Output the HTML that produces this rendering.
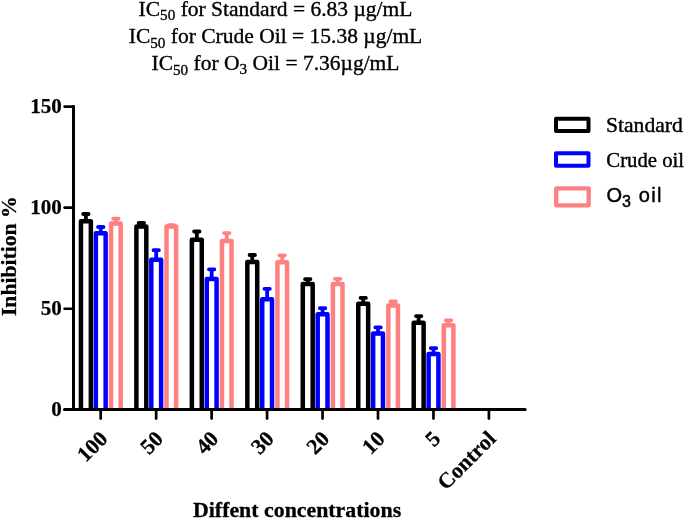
<!DOCTYPE html>
<html><head><meta charset="utf-8"><style>
html,body{margin:0;padding:0;background:#fff;width:685px;height:518px;overflow:hidden;}
svg{display:block;will-change:transform;}
</style></head><body>
<svg width="685" height="518" viewBox="0 0 685 518">
<style>
text{font-family:"Liberation Serif",serif;}
.t{font-size:21.5px;text-anchor:middle;stroke:#000;stroke-width:0.35px;}
.yl{font-size:21px;font-weight:bold;text-anchor:end;stroke:#000;stroke-width:0.25px;}
.xl{font-size:21.8px;font-weight:bold;text-anchor:end;stroke:#000;stroke-width:0.25px;}
.lg{font-size:21px;stroke:#000;stroke-width:0.4px;}
</style>
<rect width="685" height="518" fill="#fff"/>
<text class="t" x="275.5" y="15.7">IC<tspan font-size="15.2" dy="4.7">50</tspan><tspan dy="-4.7"> for Standard = 6.83 µg/mL</tspan></text>
<text class="t" x="275.5" y="42.9">IC<tspan font-size="15.2" dy="4.7">50</tspan><tspan dy="-4.7"> for Crude Oil = 15.38 µg/mL</tspan></text>
<text class="t" x="275.5" y="69.8">IC<tspan font-size="15.2" dy="4.7">50</tspan><tspan dy="-4.7"> for O</tspan><tspan font-size="15.2" dy="4.3">3</tspan><tspan dy="-4.3"> Oil = 7.36µg/mL</tspan></text>
<path d="M80.95 409.40V221.25H90.85V409.40" fill="#fff" stroke="#000" stroke-width="4.5" stroke-linejoin="round"/><path d="M85.90 221.25V214.00M83.20 214.00H88.60" stroke="#000" stroke-width="3.8" stroke-linecap="round" fill="none"/><path d="M95.85 409.40V233.25H105.65V409.40" fill="#fff" stroke="#00f" stroke-width="4.5" stroke-linejoin="round"/><path d="M100.75 233.25V227.00M98.05 227.00H103.45" stroke="#00f" stroke-width="3.8" stroke-linecap="round" fill="none"/><path d="M111.05 409.40V223.50H120.65V409.40" fill="#fff" stroke="#ff8080" stroke-width="4.5" stroke-linejoin="round"/><path d="M115.85 223.50V218.70M113.15 218.70H118.55" stroke="#ff8080" stroke-width="3.8" stroke-linecap="round" fill="none"/><path d="M136.41 409.40V226.40H146.31V409.40" fill="#fff" stroke="#000" stroke-width="4.5" stroke-linejoin="round"/><path d="M141.36 226.40V223.00M138.66 223.00H144.06" stroke="#000" stroke-width="3.8" stroke-linecap="round" fill="none"/><path d="M151.31 409.40V259.70H161.11V409.40" fill="#fff" stroke="#00f" stroke-width="4.5" stroke-linejoin="round"/><path d="M156.21 259.70V250.20M153.51 250.20H158.91" stroke="#00f" stroke-width="3.8" stroke-linecap="round" fill="none"/><path d="M166.51 409.40V226.60H176.11V409.40" fill="#fff" stroke="#ff8080" stroke-width="4.5" stroke-linejoin="round"/><path d="M171.31 226.60V225.20M168.61 225.20H174.01" stroke="#ff8080" stroke-width="3.8" stroke-linecap="round" fill="none"/><path d="M191.87 409.40V239.80H201.77V409.40" fill="#fff" stroke="#000" stroke-width="4.5" stroke-linejoin="round"/><path d="M196.82 239.80V231.50M194.12 231.50H199.52" stroke="#000" stroke-width="3.8" stroke-linecap="round" fill="none"/><path d="M206.77 409.40V279.00H216.57V409.40" fill="#fff" stroke="#00f" stroke-width="4.5" stroke-linejoin="round"/><path d="M211.67 279.00V269.30M208.97 269.30H214.37" stroke="#00f" stroke-width="3.8" stroke-linecap="round" fill="none"/><path d="M221.97 409.40V241.00H231.57V409.40" fill="#fff" stroke="#ff8080" stroke-width="4.5" stroke-linejoin="round"/><path d="M226.77 241.00V233.10M224.07 233.10H229.47" stroke="#ff8080" stroke-width="3.8" stroke-linecap="round" fill="none"/><path d="M247.33 409.40V262.00H257.23V409.40" fill="#fff" stroke="#000" stroke-width="4.5" stroke-linejoin="round"/><path d="M252.28 262.00V255.00M249.58 255.00H254.98" stroke="#000" stroke-width="3.8" stroke-linecap="round" fill="none"/><path d="M262.23 409.40V299.20H272.03V409.40" fill="#fff" stroke="#00f" stroke-width="4.5" stroke-linejoin="round"/><path d="M267.13 299.20V288.80M264.43 288.80H269.83" stroke="#00f" stroke-width="3.8" stroke-linecap="round" fill="none"/><path d="M277.43 409.40V262.20H287.03V409.40" fill="#fff" stroke="#ff8080" stroke-width="4.5" stroke-linejoin="round"/><path d="M282.23 262.20V255.30M279.53 255.30H284.93" stroke="#ff8080" stroke-width="3.8" stroke-linecap="round" fill="none"/><path d="M302.79 409.40V284.10H312.69V409.40" fill="#fff" stroke="#000" stroke-width="4.5" stroke-linejoin="round"/><path d="M307.74 284.10V279.10M305.04 279.10H310.44" stroke="#000" stroke-width="3.8" stroke-linecap="round" fill="none"/><path d="M317.69 409.40V314.20H327.49V409.40" fill="#fff" stroke="#00f" stroke-width="4.5" stroke-linejoin="round"/><path d="M322.59 314.20V308.20M319.89 308.20H325.29" stroke="#00f" stroke-width="3.8" stroke-linecap="round" fill="none"/><path d="M332.89 409.40V284.10H342.49V409.40" fill="#fff" stroke="#ff8080" stroke-width="4.5" stroke-linejoin="round"/><path d="M337.69 284.10V278.80M334.99 278.80H340.39" stroke="#ff8080" stroke-width="3.8" stroke-linecap="round" fill="none"/><path d="M358.25 409.40V303.80H368.15V409.40" fill="#fff" stroke="#000" stroke-width="4.5" stroke-linejoin="round"/><path d="M363.20 303.80V297.90M360.50 297.90H365.90" stroke="#000" stroke-width="3.8" stroke-linecap="round" fill="none"/><path d="M373.15 409.40V333.60H382.95V409.40" fill="#fff" stroke="#00f" stroke-width="4.5" stroke-linejoin="round"/><path d="M378.05 333.60V327.40M375.35 327.40H380.75" stroke="#00f" stroke-width="3.8" stroke-linecap="round" fill="none"/><path d="M388.35 409.40V305.60H397.95V409.40" fill="#fff" stroke="#ff8080" stroke-width="4.5" stroke-linejoin="round"/><path d="M393.15 305.60V301.40M390.45 301.40H395.85" stroke="#ff8080" stroke-width="3.8" stroke-linecap="round" fill="none"/><path d="M413.71 409.40V322.80H423.61V409.40" fill="#fff" stroke="#000" stroke-width="4.5" stroke-linejoin="round"/><path d="M418.66 322.80V316.10M415.96 316.10H421.36" stroke="#000" stroke-width="3.8" stroke-linecap="round" fill="none"/><path d="M428.61 409.40V354.00H438.41V409.40" fill="#fff" stroke="#00f" stroke-width="4.5" stroke-linejoin="round"/><path d="M433.51 354.00V348.20M430.81 348.20H436.21" stroke="#00f" stroke-width="3.8" stroke-linecap="round" fill="none"/><path d="M443.81 409.40V325.20H453.41V409.40" fill="#fff" stroke="#ff8080" stroke-width="4.5" stroke-linejoin="round"/><path d="M448.61 325.20V320.30M445.91 320.30H451.31" stroke="#ff8080" stroke-width="3.8" stroke-linecap="round" fill="none"/>
<path d="M73.5 105.2V411" stroke="#000" stroke-width="3"/>
<path d="M64.6 409.4H525.2" stroke="#000" stroke-width="3" stroke-linecap="round"/>
<path d="M64.6 106.60H73" stroke="#000" stroke-width="2.6" stroke-linecap="round"/><text x="61.7" y="112.90" class="yl">150</text><path d="M64.6 207.60H73" stroke="#000" stroke-width="2.6" stroke-linecap="round"/><text x="61.7" y="213.90" class="yl">100</text><path d="M64.6 308.70H73" stroke="#000" stroke-width="2.6" stroke-linecap="round"/><text x="61.7" y="315.00" class="yl">50</text><path d="M64.6 409.70H73" stroke="#000" stroke-width="2.6" stroke-linecap="round"/><text x="61.7" y="416.00" class="yl">0</text><path d="M100.70 410V418.6" stroke="#000" stroke-width="2.7" stroke-linecap="round"/><path d="M156.16 410V418.6" stroke="#000" stroke-width="2.7" stroke-linecap="round"/><path d="M211.62 410V418.6" stroke="#000" stroke-width="2.7" stroke-linecap="round"/><path d="M267.08 410V418.6" stroke="#000" stroke-width="2.7" stroke-linecap="round"/><path d="M322.54 410V418.6" stroke="#000" stroke-width="2.7" stroke-linecap="round"/><path d="M378.00 410V418.6" stroke="#000" stroke-width="2.7" stroke-linecap="round"/><path d="M433.46 410V418.6" stroke="#000" stroke-width="2.7" stroke-linecap="round"/><path d="M488.92 410V418.6" stroke="#000" stroke-width="2.7" stroke-linecap="round"/>
<text class="xl" transform="translate(108.90 440.00) rotate(-45)">100</text><text class="xl" transform="translate(164.36 440.00) rotate(-45)">50</text><text class="xl" transform="translate(219.82 440.00) rotate(-45)">40</text><text class="xl" transform="translate(275.28 440.00) rotate(-45)">30</text><text class="xl" transform="translate(330.74 440.00) rotate(-45)">20</text><text class="xl" transform="translate(386.20 440.00) rotate(-45)">10</text><text class="xl" transform="translate(441.66 440.00) rotate(-45)">5</text><text class="xl" transform="translate(497.12 440.00) rotate(-45)">Control</text>
<text transform="translate(15.9 316.1) rotate(-90) scale(0.985 1)" font-size="22" font-weight="bold" stroke="#000" stroke-width="0.3">Inhibition %</text>
<text transform="translate(193.0 516.5) scale(1.017 1)" font-size="21.5" font-weight="bold" stroke="#000" stroke-width="0.3">Diffent concentrations</text>
<rect x="556" y="118.8" width="32.5" height="12.3" fill="#fff" stroke="#000" stroke-width="4" stroke-linejoin="round"/>
<rect x="556" y="153.2" width="32.5" height="12.6" fill="#fff" stroke="#00f" stroke-width="4" stroke-linejoin="round"/>
<rect x="556.2" y="188.3" width="32.5" height="17" fill="#fff" stroke="#ff8080" stroke-width="4.3" stroke-linejoin="round"/>
<text class="lg" transform="translate(606.0 131.7) scale(1.03 1)">Standard</text>
<text class="lg" transform="translate(606.3 166.5) scale(0.988 1)">Crude oil</text>
<text transform="translate(606.5 202) scale(1.0 1)" font-size="20" style="font-family:'Liberation Sans',sans-serif;stroke:#000;stroke-width:0.45px">O<tspan font-size="16" dy="4.5">3</tspan><tspan dy="-4.5" dx="1" letter-spacing="1.3"> oil</tspan></text>
</svg>
</body></html>
